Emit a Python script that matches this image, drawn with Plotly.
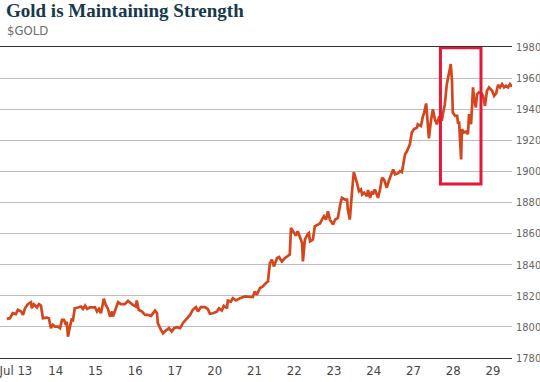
import plotly.graph_objects as go

# Trading-day position (0 = Jul 13 tick) and gold price
day_pos = [
    -0.23, -0.15, -0.08, 0.00, 0.05, 0.13, 0.18, 0.23, 0.30, 0.38, 0.40, 0.45, 0.53, 0.58,
    0.63, 0.68, 0.78, 0.83, 0.88, 0.93, 0.98, 1.06, 1.11, 1.16, 1.21, 1.26, 1.28, 1.31,
    1.36, 1.41, 1.43, 1.48, 1.56, 1.64, 1.69, 1.74, 1.79, 1.86, 1.99, 2.04, 2.09, 2.14,
    2.19, 2.21, 2.26, 2.31, 2.37, 2.42, 2.44, 2.52, 2.57, 2.64, 2.74, 2.82,
    2.94, 3.02, 3.04, 3.09, 3.17, 3.25, 3.32, 3.40, 3.45, 3.50, 3.55, 3.57, 3.65, 3.70,
    3.77, 3.85, 3.92, 3.98, 4.05, 4.13, 4.20, 4.30, 4.38, 4.45, 4.53, 4.58, 4.65, 4.76,
    4.83, 4.88, 4.96, 5.06, 5.11, 5.18, 5.23, 5.31, 5.33, 5.41, 5.46, 5.54, 5.64, 5.76,
    5.89, 5.96, 6.01, 6.06, 6.14, 6.21, 6.29, 6.34,
    6.39, 6.44, 6.49, 6.57, 6.62, 6.69, 6.77, 6.84, 6.89, 6.92, 6.97, 7.04, 7.09, 7.15,
    7.20, 7.22, 7.27, 7.35, 7.37, 7.40, 7.47, 7.52, 7.60, 7.65, 7.70, 7.75, 7.80, 7.85,
    7.90, 7.98, 8.03, 8.10, 8.15, 8.20, 8.28, 8.33, 8.35, 8.40, 8.45, 8.50, 8.58, 8.63,
    8.68, 8.71, 8.76, 8.83, 8.86, 8.91, 8.96, 8.98, 9.03, 9.11, 9.16, 9.21, 9.26, 9.33,
    9.38, 9.46, 9.49, 9.54, 9.61, 9.66, 9.71,
    9.79, 9.84, 9.91, 9.96, 10.01, 10.09, 10.11, 10.19, 10.24, 10.26, 10.32, 10.34, 10.39,
    10.44, 10.49, 10.54, 10.59, 10.64, 10.72, 10.74, 10.79, 10.84, 10.87, 10.89, 10.94,
    10.97, 10.99, 11.05, 11.10, 11.12, 11.15, 11.20, 11.22, 11.27, 11.32, 11.37, 11.40,
    11.45, 11.50, 11.52, 11.57, 11.60, 11.65, 11.72, 11.75, 11.80, 11.85, 11.90, 11.98,
    12.03, 12.08, 12.13, 12.18, 12.23, 12.28, 12.33, 12.38, 12.43, 12.48,
]
gold_price = [
    1805.2, 1805.6, 1808.8, 1808.2, 1811, 1809.9, 1807.7, 1812, 1814.6, 1815.9, 1812, 1814.6, 1812.5, 1814.6,
    1813.7, 1805.6, 1806, 1805.6, 1799.2, 1801.3, 1800.2, 1800.2, 1799.2, 1804.5, 1804.5, 1801.3, 1803.4, 1793.7,
    1800.2, 1805.6, 1803.4, 1812, 1812.5, 1813.1, 1811.6, 1813.7, 1811.6, 1812.5, 1812.5, 1809.9, 1811.6, 1808.8,
    1815.3, 1818.1, 1814.2, 1812, 1806.6, 1809.9, 1806.6, 1813.1, 1815.9, 1814.6, 1814.6, 1816.8,
    1814.2, 1813.1, 1817, 1811, 1809.9, 1807.7, 1807.7, 1807.1, 1809.2, 1810.5, 1808.8, 1802.4, 1798.1, 1795.9,
    1797.6, 1799.2, 1797, 1799.2, 1799.8, 1799.2, 1802.4, 1805, 1807.7, 1811, 1812.7, 1809.9, 1812.7, 1812.7,
    1811.4, 1808.4, 1808.8, 1809.9, 1812, 1810.5, 1813.5, 1812, 1817, 1816.3, 1818.5, 1817, 1818.5, 1819.6,
    1819.6, 1819.2, 1822.8, 1820.6, 1825, 1826, 1828.2, 1829.2,
    1841, 1843.2, 1838.9, 1844.3, 1844.9, 1842.1, 1844.3, 1845.8, 1846.5, 1863.7, 1861.5, 1858.7, 1861.5, 1857.2,
    1854, 1842.1, 1856.1, 1860, 1860.4, 1855, 1856.1, 1864.7, 1865.8, 1866.5, 1869, 1871.2, 1869, 1874.4,
    1869, 1865.8, 1869, 1870.1, 1877.6, 1883, 1881.9, 1881.9, 1875.5, 1869, 1885.2, 1899.5, 1892.7, 1887.3,
    1888.4, 1885.2, 1886.3, 1884.1, 1888, 1883, 1887.3, 1885.2, 1888.4, 1883, 1888.4, 1895.9, 1894.8, 1889.5,
    1893.8, 1899.5, 1901.3, 1898.1, 1898.7, 1900.2, 1899.5,
    1911, 1913.1, 1917.4, 1925, 1927.1, 1928.2, 1930.3, 1929.2, 1935.7, 1936.8, 1943.7, 1936.8, 1921.3,
    1932.5, 1940, 1933.5, 1930.3, 1934.6, 1933.5, 1936.8, 1943.2, 1956.1, 1960.4, 1963, 1969,
    1958.3, 1937.8, 1935.7, 1935.7, 1931.4, 1931.4, 1907.7, 1927.1, 1925, 1925.6, 1923.9, 1936.8,
    1930.3, 1954, 1947.6, 1941.1, 1949.7, 1950.8, 1950.1, 1948.6, 1942.1, 1951.8, 1954, 1951.8,
    1948.6, 1950.1, 1955.7, 1954, 1956.1, 1954, 1955.1, 1954, 1956.1, 1954.4,
]

tick_positions = list(range(13))
tick_labels = ["Jul 13", "14", "15", "16", "17", "20", "21", "22", "23", "24", "27", "28", "29"]
y_ticks = list(range(1780, 1981, 20))

# highlight box (day position / price)
box_x = [10.68, 11.70]
box_y = [1891.9, 1979.5]

NARROW = "DejaVu Sans Condensed, DejaVu Sans, sans-serif"

fig = go.Figure()
fig.add_trace(go.Scatter(
    x=day_pos, y=gold_price, mode="lines",
    line=dict(color="#D5461C", width=2.7),
    hoverinfo="skip", showlegend=False,
))

fig.add_shape(type="rect", xref="x", yref="y",
              x0=box_x[0], x1=box_x[1], y0=box_y[0], y1=box_y[1],
              line=dict(color="#E8173A", width=3), fillcolor="rgba(0,0,0,0)", layer="above")

fig.update_layout(
    width=540, height=382,
    margin=dict(l=0, r=28, t=47, b=24, autoexpand=False),
    paper_bgcolor="white", plot_bgcolor="white",
    xaxis=dict(
        range=[-0.40, 12.48], tickmode="array", tickvals=tick_positions, ticktext=tick_labels,
        showgrid=False, zeroline=False, showline=True, mirror=True,
        linecolor="#333333", linewidth=1, ticks="", automargin=False,
        ticklabeloverflow="allow",
        tickfont=dict(family=NARROW, size=13, color="#444444"),
        fixedrange=True,
    ),
    yaxis=dict(
        range=[1780, 1980], side="right", tickmode="array", tickvals=y_ticks,
        showgrid=True, gridcolor="#BDBDBD", gridwidth=1, zeroline=False,
        showline=False, ticks="", ticklabelstandoff=3, automargin=False,
        ticklabeloverflow="allow",
        tickfont=dict(family=NARROW, size=11, color="#666666"),
        fixedrange=True,
    ),
    annotations=[
        dict(text="<b>Gold is Maintaining Strength</b>", xref="paper", yref="paper",
             x=0, y=(358 - 10.5) / 311, xanchor="left", yanchor="middle", xshift=4,
             showarrow=False, font=dict(family="Liberation Serif, serif", size=19, color="#17394A")),
        dict(text="$GOLD", xref="paper", yref="paper",
             x=0, y=(358 - 30) / 311, xanchor="left", yanchor="middle", xshift=5,
             showarrow=False, font=dict(family=NARROW, size=13, color="#6B6B6B")),
    ],
)

fig.write_html(
    "out.html",
    config={"displayModeBar": False},
    post_script="document.body.style.margin='0';document.body.style.overflow='hidden';",
)
